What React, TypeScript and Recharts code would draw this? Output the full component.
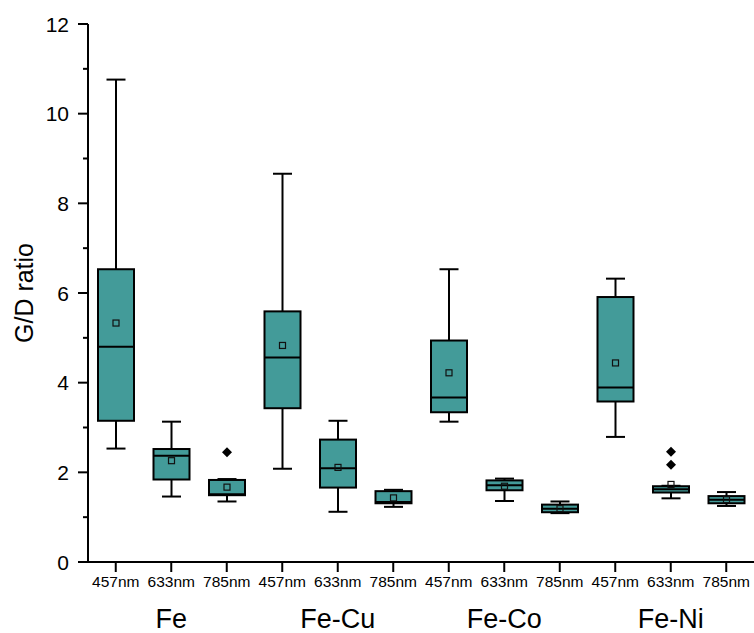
import React from 'react';
import { ComposedChart, Bar, XAxis, YAxis } from 'recharts';

const groups = ['Fe', 'Fe-Cu', 'Fe-Co', 'Fe-Ni'];
const lasers = ['457nm', '633nm', '785nm'];

// one value per box, in order Fe(457,633,785), Fe-Cu(...), Fe-Co(...), Fe-Ni(...)
const whiskerLow = [2.53, 1.46, 1.35, 2.08, 1.12, 1.23, 3.13, 1.36, 1.09, 2.79, 1.42, 1.25];
const q1 = [3.15, 1.84, 1.49, 3.43, 1.66, 1.31, 3.34, 1.6, 1.11, 3.58, 1.55, 1.31];
const medians = [4.8, 2.37, 1.51, 4.56, 2.09, 1.34, 3.67, 1.71, 1.19, 3.89, 1.62, 1.39];
const q3 = [6.53, 2.52, 1.83, 5.59, 2.73, 1.58, 4.94, 1.82, 1.28, 5.91, 1.69, 1.47];
const whiskerHigh = [10.76, 3.13, 1.85, 8.66, 3.15, 1.61, 6.53, 1.86, 1.35, 6.32, 1.7, 1.56];
const means = [5.33, 2.26, 1.67, 4.83, 2.11, 1.43, 4.22, 1.69, 1.19, 4.44, 1.73, 1.39];
const outliers: number[][] = [[], [], [2.45], [], [], [], [], [], [], [], [2.46, 2.17], []];

const yTicks = [0, 1, 2, 3, 4, 5, 6, 7, 8, 9, 10, 11, 12];

const FILL = '#439B99';
const FONT = '"Liberation Sans", Arial, sans-serif';

const data = groups.flatMap((g, gi) =>
  lasers.map((l, li) => {
    const i = gi * 3 + li;
    return {
      id: `${g}|${l}`,
      range: [whiskerLow[i], whiskerHigh[i]],
      lo: whiskerLow[i],
      hi: whiskerHigh[i],
      q1: q1[i],
      median: medians[i],
      q3: q3[i],
      mean: means[i],
      outliers: outliers[i],
    };
  })
);

const BoxShape = (props: any) => {
  const { x, y, width, height, payload } = props;
  const { lo, hi } = payload;
  // linear map from the bar's pixel extent (set by the y scale)
  const py = (v: number) => y + height - ((v - lo) / (hi - lo)) * height;
  const cx = x + width / 2;
  const bw = 36;
  const cap = 19;
  const top = py(payload.q3);
  const bot = py(payload.q1);
  return (
    <g>
      <line x1={cx} x2={cx} y1={py(hi)} y2={top} stroke="#000" strokeWidth={2} />
      <line x1={cx} x2={cx} y1={bot} y2={py(lo)} stroke="#000" strokeWidth={2} />
      <line x1={cx - cap / 2} x2={cx + cap / 2} y1={py(hi)} y2={py(hi)} stroke="#000" strokeWidth={2} />
      <line x1={cx - cap / 2} x2={cx + cap / 2} y1={py(lo)} y2={py(lo)} stroke="#000" strokeWidth={2} />
      <rect x={cx - bw / 2} y={top} width={bw} height={bot - top} fill={FILL} stroke="#000" strokeWidth={2} />
      <line x1={cx - bw / 2} x2={cx + bw / 2} y1={py(payload.median)} y2={py(payload.median)} stroke="#000" strokeWidth={2} />
      <rect x={cx - 3} y={py(payload.mean) - 3} width={6} height={6} fill="none" stroke="#111" strokeWidth={1.2} />
      {payload.outliers.map((o: number, k: number) => {
        const oy = py(o);
        return <path key={k} d={`M${cx},${oy - 5}L${cx + 5},${oy}L${cx},${oy + 5}L${cx - 5},${oy}Z`} fill="#000" />;
      })}
    </g>
  );
};

const YTick = (props: any) => {
  const { x, y, payload } = props;
  const major = payload.value % 2 === 0;
  return (
    <g>
      <line x1={x - (major ? 10 : 5)} x2={x} y1={y} y2={y} stroke="#000" strokeWidth={2} />
      {major && (
        <text x={x - 19} y={y} dy={7.5} textAnchor="end" fontSize={21} fontFamily={FONT} fill="#000">
          {payload.value}
        </text>
      )}
    </g>
  );
};

const XTick = (props: any) => {
  const { x, y, payload } = props;
  const [group, laser] = String(payload.value).split('|');
  return (
    <g>
      <line x1={x} x2={x} y1={y} y2={y + 10} stroke="#000" strokeWidth={2} />
      <text x={x} y={y + 25} textAnchor="middle" fontSize={15.5} fontFamily={FONT} fill="#000">
        {laser}
      </text>
      {laser === '633nm' && (
        <text x={x} y={y + 66} textAnchor="middle" fontSize={27} fontFamily={FONT} fill="#000">
          {group}
        </text>
      )}
    </g>
  );
};

export default function App() {
  return (
    <div style={{ position: 'absolute', left: 0, top: 0, background: '#fff' }}>
      <ComposedChart
        width={754}
        height={633}
        data={data}
        margin={{ top: 24, right: 0, bottom: 0, left: 0 }}
        barCategoryGap={0}
      >
        <XAxis
          dataKey="id"
          type="category"
          height={71}
          axisLine={{ stroke: '#000', strokeWidth: 2 }}
          tickLine={false}
          tickSize={0}
          tickMargin={0}
          tick={<XTick />}
          interval={0}
        />
        <YAxis
          type="number"
          domain={[0, 12]}
          ticks={yTicks}
          width={88}
          axisLine={{ stroke: '#000', strokeWidth: 2 }}
          tickLine={false}
          tickSize={0}
          tickMargin={0}
          tick={<YTick />}
          interval={0}
          allowDataOverflow
        />
        <Bar dataKey="range" shape={<BoxShape />} isAnimationActive={false} />
        <text
          x={26}
          y={293}
          transform="rotate(-90 26 293)"
          textAnchor="middle"
          dominantBaseline="middle"
          fontSize={25}
          fontFamily={FONT}
          fill="#000"
        >
          G/D ratio
        </text>
      </ComposedChart>
    </div>
  );
}
